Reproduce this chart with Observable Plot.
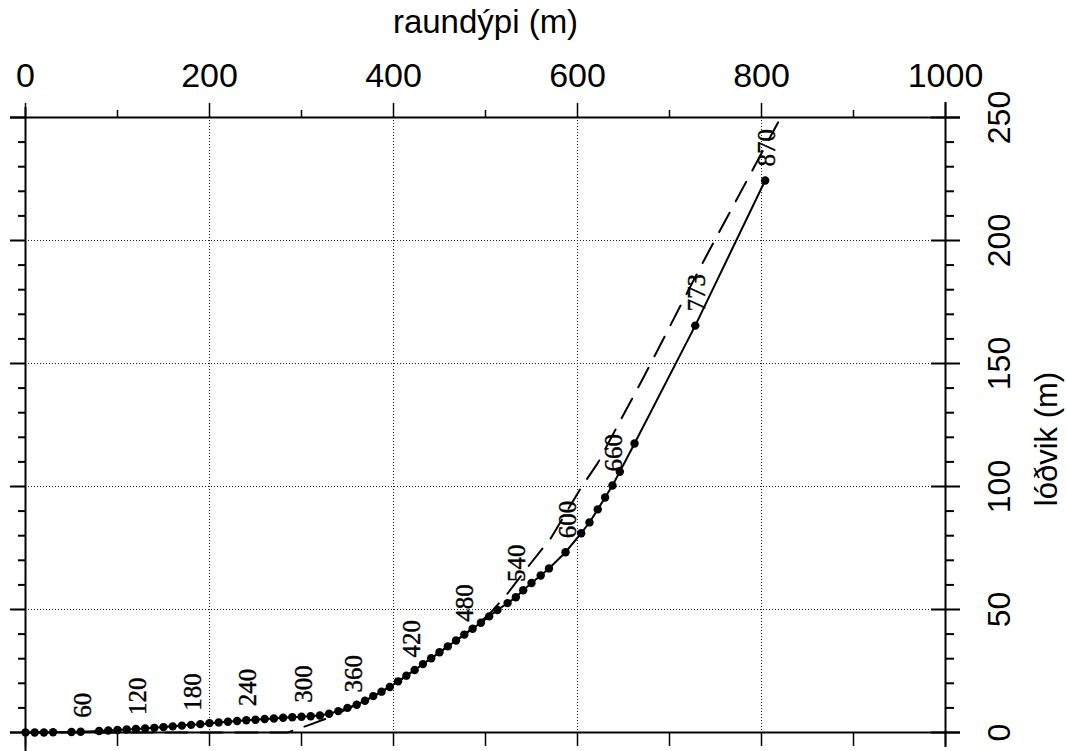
<!DOCTYPE html>
<html>
<head>
<meta charset="utf-8">
<script src="https://cdn.jsdelivr.net/npm/d3@7"></script>
<script src="https://cdn.jsdelivr.net/npm/@observablehq/plot@0.6"></script>
<style>
  html, body { margin: 0; padding: 0; background: #fff; }
  #chart { width: 1067px; height: 751px; overflow: hidden; }
</style>
</head>
<body>
<div id="chart"></div>
<script>
// Measured well path: true vertical depth (raundýpi, m) and horizontal displacement (lóðvik, m)
const tvd = [0,10,20,30,50,60,80,90,100,110,120,130,140,150,160,170,180,190,200,210,220,230,240,250,260,270,280,290,300,310,320,
  330,340,350,360,369,378,387,396,405,414,423,432,441,450,459,468,477,486,495,504,513,
  524,533,541,550,560,569,587,604,613,622,630,638,646,662,728,804];
const disp = [0,0,0,0.1,0.2,0.3,0.6,0.8,1.0,1.2,1.4,1.6,1.9,2.2,2.5,2.8,3.1,3.4,3.8,4.1,4.4,4.7,5.0,5.2,5.5,5.7,6.0,6.2,6.4,6.6,6.9,
  7.6,8.7,10.0,11.3,12.9,14.8,16.6,18.5,20.8,23.1,25.4,27.8,30.2,32.6,35.0,37.4,39.8,42.2,44.6,47.2,49.8,
  52.6,55.0,57.8,60.8,63.8,66.7,73.3,81.0,85.4,90.7,95.5,100.4,106.0,117.5,165.4,224.4];

// Planned path (dashed)
const planTvd  = [0,285,313,333,350,378,405,441,477,504,524,549,571,603,622,639,672,734,785,818];
const planDisp = [0,0,3.7,6.5,9.6,14.6,20.6,30.2,39.8,48.0,56.5,68.7,79.0,99.0,109.5,121.5,144.5,189.5,225.0,248.0];

// Measured-depth annotations
const labelMD   = [60,120,180,240,300,360,420,480,540,600,660,773,870];
const labelTvd  = [60,120,180,240,300,355,418,475,532,587,638,728,804];
const labelDisp = [0.3,1.4,3.1,5.0,6.4,10.6,24.8,39.3,55.5,73.3,100.4,165.4,224.4];

// Axis ticks and labels
const xMajor = [0,200,400,600,800,1000];
const xMinor = [100,300,500,700,900];
const xBottom = [0,100,200,300,400,500,600,700,800,900,1000];
const yMajor = [0,50,100,150,200,250];
const yMinor = [10,20,30,40,60,70,80,90,110,120,130,140,160,170,180,190,210,220,230,240];
const xGrid = [200,400,600,800];
const yGrid = [50,100,150,200];
const xTitle = "raundýpi (m)";
const yTitle = "lóðvik (m)";

const path = tvd.map((t, i) => ({x: t, y: disp[i]}));
const plan = planTvd.map((t, i) => ({x: t, y: planDisp[i]}));
const labels = labelMD.map((m, i) => ({md: m, x: labelTvd[i], y: labelDisp[i]}));

const W = 1067, H = 751;
const mL = 25, mR = 122, mT = 117, mB = 19;
const fW = W - mL - mR, fH = H - mT - mB;
const sans = "'Liberation Sans', Arial, Helvetica, sans-serif";
const serif = "'Liberation Serif', 'Times New Roman', serif";

const chart = Plot.plot({
  width: W, height: H,
  marginLeft: mL, marginRight: mR, marginTop: mT, marginBottom: mB,
  x: {domain: [0, 1000], axis: null},
  y: {domain: [0, 250], axis: null},
  style: {background: "#fff", fontFamily: sans, color: "#000", overflow: "visible"},
  marks: [
    // grid
    Plot.ruleX(xGrid, {x: d => d, stroke: "#222", strokeWidth: 1, strokeDasharray: "1,2"}),
    Plot.ruleY(yGrid, {y: d => d, stroke: "#222", strokeWidth: 1, strokeDasharray: "1,2"}),
    // planned path
    Plot.line(plan, {x: "x", y: "y", stroke: "#000", strokeWidth: 2, strokeDasharray: "22,13"}),
    // measured path
    Plot.line(path, {x: "x", y: "y", stroke: "#000", strokeWidth: 2}),
    Plot.dot(path, {x: "x", y: "y", r: 4.2, fill: "#000", stroke: "none"}),
    // MD labels
    Plot.text(labels, {x: "x", y: "y", text: d => String(d.md), rotate: -90, textAnchor: "start", lineAnchor: "middle",
      dx: 2, dy: -14, fontFamily: serif, fontSize: 25, fill: "#000", stroke: "#000", strokeWidth: 0.4}),
    // frame lines
    Plot.ruleY([250], {y: d => d, stroke: "#000", strokeWidth: 2, insetLeft: -15, insetRight: -15}),
    Plot.ruleY([0], {y: d => d, stroke: "#000", strokeWidth: 2, insetLeft: -15, insetRight: -15}),
    Plot.ruleX([0], {x: d => d, stroke: "#000", strokeWidth: 2, insetTop: -10, insetBottom: -19}),
    Plot.ruleX([1000], {x: d => d, stroke: "#000", strokeWidth: 2, insetTop: -15, insetBottom: -15}),
    // top ticks (outward)
    Plot.tickX(xMajor, {x: d => d, stroke: "#000", strokeWidth: 1.5, insetTop: -14, insetBottom: fH}),
    Plot.tickX(xMinor, {x: d => d, stroke: "#000", strokeWidth: 1.5, insetTop: -7, insetBottom: fH}),
    // bottom ticks
    Plot.tickX(xBottom, {x: d => d, stroke: "#000", strokeWidth: 1.5, insetTop: fH, insetBottom: -14}),
    // left ticks
    Plot.tickY(yMajor, {y: d => d, stroke: "#000", strokeWidth: 2, insetLeft: -15, insetRight: fW}),
    Plot.tickY(yMinor, {y: d => d, stroke: "#000", strokeWidth: 2, insetLeft: -7, insetRight: fW}),
    // right ticks
    Plot.tickY(yMajor, {y: d => d, stroke: "#000", strokeWidth: 2, insetLeft: fW - 14, insetRight: -15}),
    Plot.tickY(yMinor, {y: d => d, stroke: "#000", strokeWidth: 2, insetLeft: fW, insetRight: -9}),
    // tick labels
    Plot.text(xMajor, {x: d => d, frameAnchor: "top", lineAnchor: "middle", dy: -41, text: d => String(d), fontSize: 34, fill: "#000"}),
    Plot.text(yMajor, {y: d => d, frameAnchor: "right", textAnchor: "middle", lineAnchor: "middle", dx: 54, rotate: -90, text: d => String(d), fontSize: 32, fill: "#000"}),
    // axis titles
    Plot.text([xTitle], {frameAnchor: "top", lineAnchor: "middle", dy: -95, text: d => d, fontSize: 33, fill: "#000"}),
    Plot.text([yTitle], {frameAnchor: "right", textAnchor: "middle", lineAnchor: "middle", dx: 102, dy: 14, rotate: -90, text: d => d, fontSize: 31, fill: "#000"})
  ]
});
document.getElementById("chart").appendChild(chart);
</script>
</body>
</html>
